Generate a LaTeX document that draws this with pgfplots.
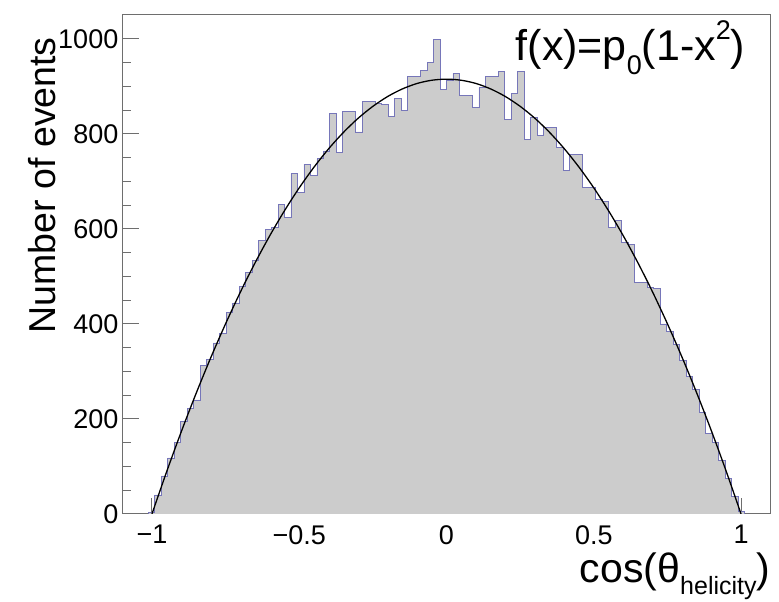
\documentclass[border=0pt]{standalone}
\usepackage{pgfplots}
\pgfplotsset{compat=1.18}
\usepackage{fontspec}
\setmainfont{Liberation Sans}
\definecolor{histgray}{RGB}{204,204,204}
\definecolor{histblue}{RGB}{118,118,185}
\definecolor{framegray}{RGB}{110,110,110}
\begin{document}
\begin{tikzpicture}
\begin{axis}[
  at={(0,0)}, anchor=south west,
  scale only axis, width=648pt, height=499pt,
  xmin=-1.1, xmax=1.1, ymin=0, ymax=1050,
  axis line style={framegray, line width=1pt},
  every tick/.style={framegray, line width=1pt},
  tick align=inside, xtick pos=bottom, ytick pos=left,
  major tick length=16pt, minor tick length=8pt,
  xtick={-1,-0.5,0,0.5,1},
  xticklabels={−1,−0.5,0,0.5,1},
  minor x tick num=4,
  ytick={0,200,400,600,800,1000},
  minor y tick num=3,
  /pgf/number format/assume math mode=true,
  /pgf/number format/1000 sep={},
  ticklabel style={font=\fontsize{27}{27}\selectfont, inner sep=0pt},
  yticklabel shift=4pt,
  xticklabel shift=11pt,
  clip=true,
]
\addplot[const plot, fill=histgray, draw=histblue, line width=0.8pt] coordinates {
(-1.012,4) (-0.990,40) (-0.968,80) (-0.946,118) (-0.924,150) (-0.902,195)
(-0.880,222) (-0.858,240) (-0.836,312) (-0.814,325) (-0.792,360) (-0.770,380)
(-0.748,424) (-0.726,444) (-0.704,478) (-0.682,508) (-0.660,533) (-0.638,575)
(-0.616,598) (-0.594,603) (-0.572,652) (-0.550,624) (-0.528,716) (-0.506,677)
(-0.484,736) (-0.462,712) (-0.440,748) (-0.418,764) (-0.396,843) (-0.374,761)
(-0.352,847) (-0.330,847) (-0.308,804) (-0.286,869) (-0.264,869) (-0.242,863)
(-0.220,861) (-0.198,837) (-0.176,875) (-0.154,850) (-0.132,921) (-0.110,921)
(-0.088,933) (-0.066,950) (-0.044,998) (-0.022,894) (0.000,912) (0.022,927)
(0.044,880) (0.066,880) (0.088,856) (0.110,897) (0.132,920) (0.154,920)
(0.176,931) (0.198,830) (0.220,885) (0.242,931) (0.264,789) (0.286,835)
(0.308,796) (0.330,814) (0.352,814) (0.374,771) (0.396,722) (0.418,757)
(0.440,757) (0.462,687) (0.484,687) (0.506,663) (0.528,657) (0.550,603)
(0.572,617) (0.594,571) (0.616,567) (0.638,487) (0.660,487) (0.682,476)
(0.704,474) (0.726,400) (0.748,384) (0.770,357) (0.792,324) (0.814,289)
(0.836,262) (0.858,214) (0.880,170) (0.902,150) (0.924,112) (0.946,75)
(0.968,36) (0.990,5) (1.012,5)
} \closedcycle;
\addplot[black, line width=1.3pt, smooth] coordinates {
(-1,0) (-0.95,89.2) (-0.9,173.9) (-0.85,253.9) (-0.8,329.4) (-0.75,400.3)
(-0.7,466.7) (-0.65,528.4) (-0.6,585.6) (-0.55,638.2) (-0.5,686.3) (-0.45,729.7)
(-0.4,768.6) (-0.35,802.9) (-0.3,832.7) (-0.25,857.8) (-0.2,878.4) (-0.15,894.4)
(-0.1,905.9) (-0.05,912.7) (0,915) (0.05,912.7) (0.1,905.9) (0.15,894.4)
(0.2,878.4) (0.25,857.8) (0.3,832.7) (0.35,802.9) (0.4,768.6) (0.45,729.7)
(0.5,686.3) (0.55,638.2) (0.6,585.6) (0.65,528.4) (0.7,466.7) (0.75,400.3)
(0.8,329.4) (0.85,253.9) (0.9,173.9) (0.95,89.2) (1,0)
};
\end{axis}
\node[rotate=90, anchor=south east, inner sep=0pt, font=\fontsize{37.5}{37.5}\selectfont] at (-66pt,477pt) {Number of events};
\node[anchor=base east, inner sep=0pt, font=\fontsize{43}{43}\selectfont] at (623pt,453pt) {f(x)=p\raisebox{-0.32em}{\fontsize{27}{27}\selectfont 0}(1-x\raisebox{0.5em}{\fontsize{27}{27}\selectfont 2})};
\node[anchor=base east, inner sep=0pt, font=\fontsize{41}{41}\selectfont] at (648pt,-69pt) {cos(θ\raisebox{-0.27em}{\fontsize{25}{25}\selectfont helicity})};
\pgfresetboundingbox
\path (-122.5pt,-88pt) rectangle (656.5pt,514pt);
\end{tikzpicture}
\end{document}
